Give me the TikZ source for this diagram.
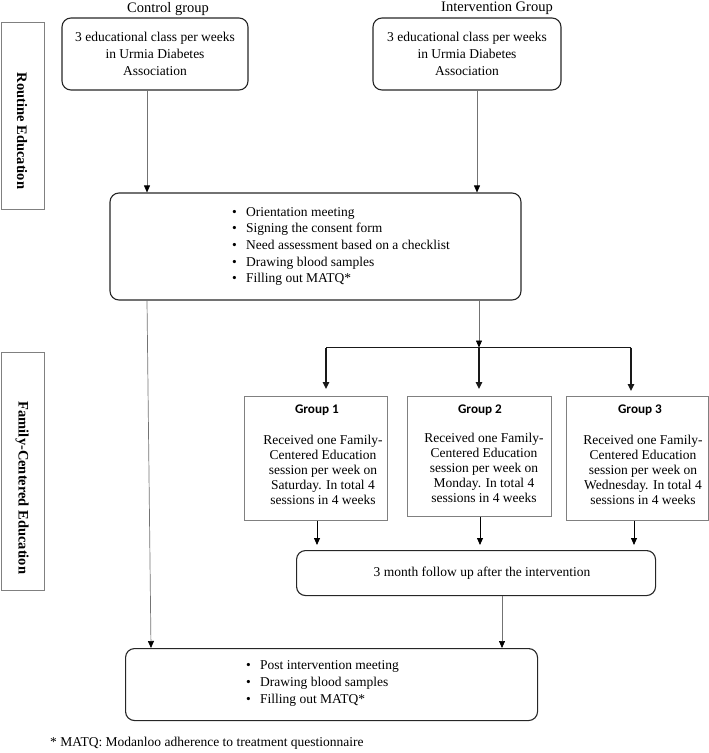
\documentclass[tikz,border=0pt]{standalone}
\usepackage{fontspec}
\setmainfont{Liberation Serif}
\newfontfamily\calib{Carlito}
\usetikzlibrary{arrows.meta}
\tikzset{
  base/.style={font=\fontsize{13.5}{16.7}\selectfont},
  rbox/.style={draw=black!85, line width=1.1pt, rounded corners=9pt, inner sep=0pt},
  gbox/.style={draw=black!50, line width=0.8pt, inner sep=0pt},
  sidebox/.style={draw=black!50, line width=0.8pt, inner sep=0pt},
  txt/.style={base, inner sep=0pt, align=center},
  lst/.style={base, inner sep=0pt, align=left, anchor=west},
  sidelbl/.style={font=\fontsize{14.5}{16}\selectfont\bfseries, inner sep=0pt, rotate=-90},
  hdr/.style={font=\fontsize{14.5}{16}\selectfont, inner sep=0pt},
  gtitle/.style={font=\fontsize{13.2}{15}\selectfont\calib\bfseries, inner sep=0pt},
  gbody/.style={font=\fontsize{13.5}{15}\selectfont, inner sep=0pt, align=center},
  conn/.style={draw=black!55, line width=0.7pt, -{Triangle[length=7pt,width=6pt,color=black]}},
  conk/.style={draw=black, line width=0.8pt, -{Triangle[length=7pt,width=6pt]}},
  brarrow/.style={draw=black!90, line width=1.3pt, -{Triangle[length=7pt,width=6.5pt]}},
}
\newcommand{\bul}{\makebox[14pt][l]{\textbullet}}
\begin{document}
\begin{tikzpicture}[x=1pt,y=-1pt]
\useasboundingbox (0,0) rectangle (709,753);

% headers
\node[hdr] (hctrl) at (168,9) {Control group};
\node[hdr] (hint) at (497,8) {Intervention Group};

% side boxes
\node[sidebox, minimum width=43pt, minimum height=187pt, anchor=north west] (rside) at (0.5,22) {};
\node[sidelbl] (rlbl) at (22,131) {Routine Education};
\node[sidebox, minimum width=43pt, minimum height=238pt, anchor=north west] (fside) at (0.5,352) {};
\node[sidelbl] (flbl) at (22,488) {Family-Centered Education};

% top boxes
\node[rbox, txt, minimum width=186pt, minimum height=72pt] (ctrl) at (155,54)
  {3 educational class per weeks\\in Urmia Diabetes\\Association};
\node[rbox, txt, minimum width=188pt, minimum height=72pt] (intv) at (467,54)
  {3 educational class per weeks\\in Urmia Diabetes\\Association};

% orientation box
\node[rbox, minimum width=411pt, minimum height=107pt] (orient) at (315.5,246.5) {};
\node[lst] (orientlist) at (232,246.5)
  {\bul Orientation meeting\\
   \bul Signing the consent form\\
   \bul Need assessment based on a checklist\\
   \bul Drawing blood samples\\
   \bul Filling out MATQ*};

% group boxes
\node[gbox, minimum width=143pt, minimum height=124pt, anchor=north west] (g1) at (244,396) {};
\node[gbox, minimum width=144pt, minimum height=120pt, anchor=north west] (g2) at (407,396) {};
\node[gbox, minimum width=142pt, minimum height=124pt, anchor=north west] (g3) at (566,396) {};
\node[gtitle] (g1t) at (317,410) {Group 1};
\node[gtitle] (g2t) at (480,410) {Group 2};
\node[gtitle] (g3t) at (640,410) {Group 3};
\node[gbody] (g1b) at (323,470) {Received one Family-\\Centered Education\\session per week on\\Saturday. In total 4\\sessions in 4 weeks};
\node[gbody] (g2b) at (484,468) {Received one Family-\\Centered Education\\session per week on\\Monday. In total 4\\sessions in 4 weeks};
\node[gbody] (g3b) at (643,470) {Received one Family-\\Centered Education\\session per week on\\Wednesday. In total 4\\sessions in 4 weeks};

% follow-up
\node[rbox, txt, minimum width=359pt, minimum height=45pt, anchor=north west] (follow) at (296,550)
  {\hspace*{12pt}3 month follow up after the intervention};

% final box
\node[rbox, minimum width=412pt, minimum height=72pt, anchor=north west] (final) at (125,648) {};
\node[lst] (finallist) at (246,683.5)
  {\bul Post intervention meeting\\
   \bul Drawing blood samples\\
   \bul Filling out MATQ*};

% footnote
\node[base, anchor=west, inner sep=0pt] (foot) at (50,743) {* MATQ: Modanloo adherence to treatment questionnaire};

% column coordinates
\coordinate (ca) at (147,0);
\coordinate (ca2) at (151,0);
\coordinate (cb) at (477,0);
\coordinate (cc) at (479,0);
\coordinate (bl) at (326,347.5);
\coordinate (bm) at (479,347.5);
\coordinate (br) at (631,347.5);
\coordinate (k1) at (317,0);
\coordinate (k2) at (480,0);
\coordinate (k3) at (634,0);
\coordinate (cd) at (502,0);

% connectors
\draw[conn] (ctrl.south -| ca) -- (orient.north -| ca);
\draw[conn] (intv.south -| cb) -- (orient.north -| cb);
\draw[conn] (orient.south -| ca) -- (final.north -| ca2);
\draw[conn] (orient.south -| cc) -- (bm);
\draw[draw=black!90, line width=1.3pt] (bl) -- (br);
\draw[brarrow, shorten >=7pt] (bl) -- (g1.north -| bl);
\draw[brarrow, shorten >=7pt] (bm) -- (g2.north -| bm);
\draw[brarrow, shorten >=5pt] (br) -- (g3.north -| br);
\draw[conk, shorten >=5pt] (g1.south -| k1) -- (follow.north -| k1);
\draw[conk, shorten >=5pt] (g2.south -| k2) -- (follow.north -| k2);
\draw[conk, shorten >=5pt] (g3.south -| k3) -- (follow.north -| k3);
\draw[conn] (follow.south -| cd) -- (final.north -| cd);
\end{tikzpicture}
\end{document}
